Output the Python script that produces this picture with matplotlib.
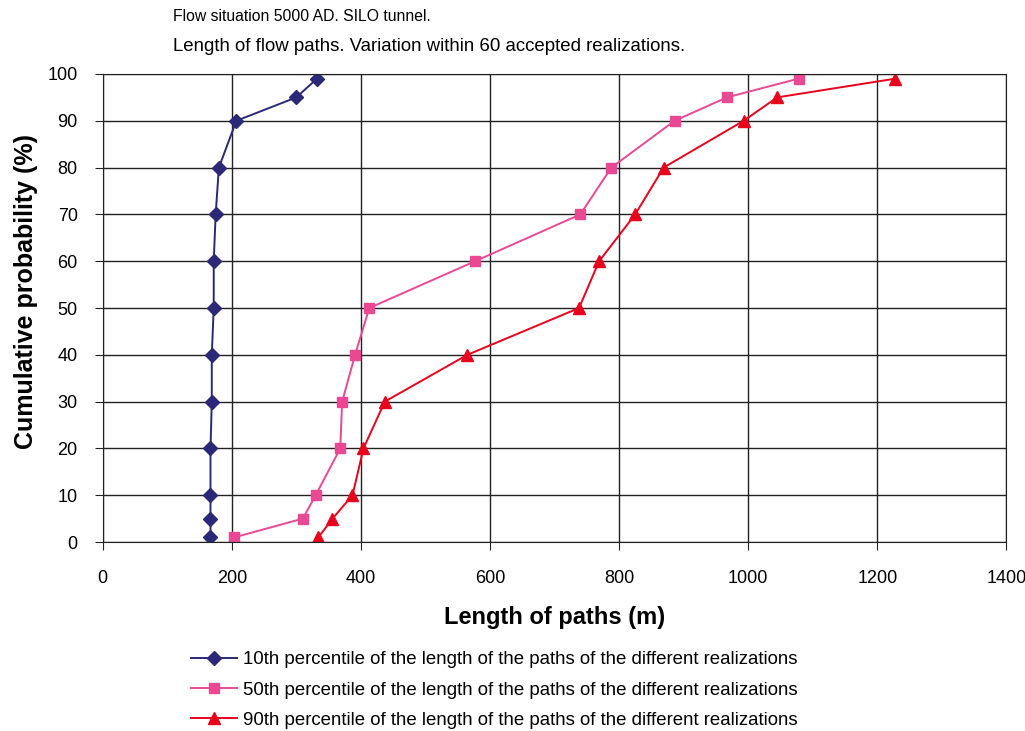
import numpy as np
import matplotlib
matplotlib.use("Agg")
import matplotlib.pyplot as plt

plt.rcParams['font.family'] = ['Liberation Sans', 'DejaVu Sans']

prob = [1, 5, 10, 20, 30, 40, 50, 60, 70, 80, 90, 95, 99]
p10 = [167, 167, 167, 167, 169, 169, 172, 172, 175, 180, 207, 300, 332]
p50 = [204, 310, 330, 368, 371, 391, 413, 577, 740, 788, 886, 967, 1078]
p90 = [334, 356, 387, 404, 437, 565, 738, 769, 825, 869, 993, 1045, 1228]

labels = ["10th percentile of the length of the paths of the different realizations",
          "50th percentile of the length of the paths of the different realizations",
          "90th percentile of the length of the paths of the different realizations"]

fig = plt.figure(figsize=(10.25, 7.31), dpi=100)
ax = fig.add_axes([0.1002, 0.2585, 0.8816, 0.6403])

ax.plot(p10, prob, color="#2b2878", marker="D", markersize=7, lw=1.4, label=labels[0])
ax.plot(p50, prob, color="#ea4893", marker="s", markersize=7, lw=1.4, label=labels[1])
ax.plot(p90, prob, color="#e8001c", marker="^", markersize=8, lw=1.4, label=labels[2])

ax.set_xlim(0, 1400)
ax.set_ylim(0, 100)
ax.set_xticks(np.arange(0, 1401, 200))
ax.set_yticks(np.arange(0, 101, 10))
ax.grid(True, color="#222222", lw=1)
ax.set_axisbelow(True)
for s in ax.spines.values():
    s.set_color("#222222")
ax.tick_params(labelsize=13, length=6, color="#222222")
ax.tick_params(axis="x", pad=14)
ax.tick_params(axis="y", pad=12)

ax.set_xlabel("Length of paths (m)", fontsize=17, fontweight="bold", labelpad=14)
ax.set_ylabel("Cumulative probability (%)", fontsize=18, fontweight="bold")
ax.yaxis.set_label_coords(-0.072, 0.535)

fig.text(0.169, 0.977, "Flow situation 5000 AD. SILO tunnel.", fontsize=11.3, va="center")
fig.text(0.169, 0.937, "Length of flow paths. Variation within 60 accepted realizations.", fontsize=13.4, va="center")

fig.legend(loc="upper left", bbox_to_anchor=(0.179, 0.119), frameon=False, fontsize=13.4,
           handlelength=2.5, handletextpad=0.3, labelspacing=0.7, borderaxespad=0)

fig.savefig("out.png", dpi=100)
